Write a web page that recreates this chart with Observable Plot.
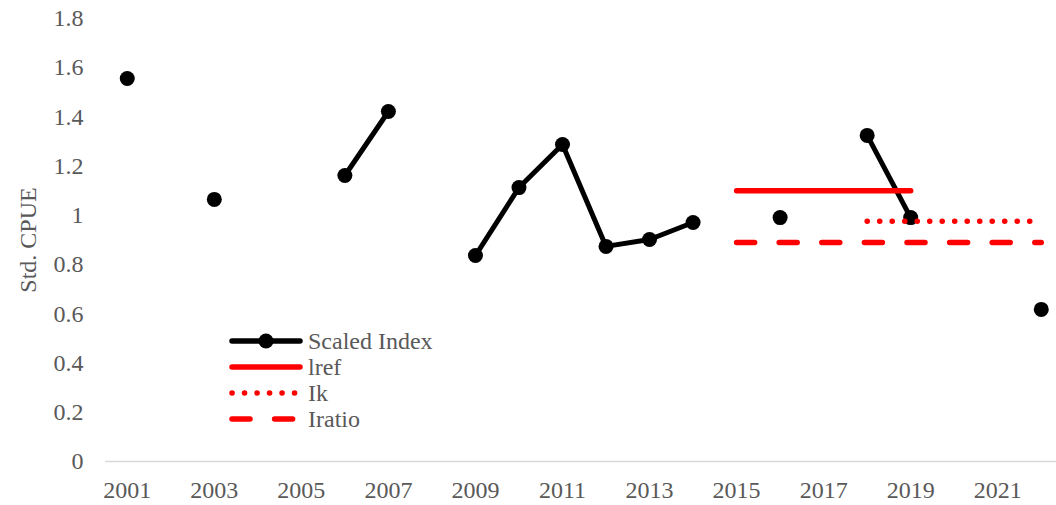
<!DOCTYPE html>
<html>
<head>
<meta charset="utf-8">
<script src="https://cdn.jsdelivr.net/npm/d3@7"></script>
<script src="https://cdn.jsdelivr.net/npm/@observablehq/plot@0.6"></script>
<style>
  html, body { margin: 0; padding: 0; background: #fff; }
  #wrap { position: relative; width: 1056px; height: 505px; }
  #legend { position: absolute; left: 0; top: 0; pointer-events: none; }
</style>
</head>
<body>
<div id="wrap"></div>
<script>
// ---- data ----
const years = [2001,2002,2003,2004,2005,2006,2007,2008,2009,2010,2011,2012,2013,2014,2015,2016,2017,2018,2019,2020,2021,2022];
const scaledIndex = [1.556,null,1.065,null,null,1.162,1.422,null,0.837,1.113,1.288,0.874,0.902,0.971,null,0.991,null,1.325,0.991,null,null,0.618];

const irefYears = [2015, 2019];
const irefValues = [1.1, 1.1];
const ikYears = [2018, 2022];
const ikValues = [0.976, 0.976];
const iratioYears = [2015, 2022];
const iratioValues = [0.89, 0.89];

const xTicks = [2001,2003,2005,2007,2009,2011,2013,2015,2017,2019,2021];
const yTicks = [0,0.2,0.4,0.6,0.8,1,1.2,1.4,1.6,1.8];
const yLabel = "Std. CPUE";
const legendLabels = ["Scaled Index","lref","Ik","Iratio"];

// ---- tables ----
const idx = years.map((y,i) => ({year: y, value: scaledIndex[i]}));
const idxPts = idx.filter(d => d.value != null);
const iref = irefYears.map((y,i) => ({year: y, value: irefValues[i]}));
const ik = ikYears.map((y,i) => ({year: y, value: ikValues[i]}));
const iratio = iratioYears.map((y,i) => ({year: y, value: iratioValues[i]}));

const FONT = "'Liberation Serif', 'Times New Roman', serif";
const GRAY = "#595959";
const RED = "#ff0000";

const chart = Plot.plot({
  width: 1056,
  height: 505,
  marginLeft: 105,
  marginRight: 0,
  marginTop: 18,
  marginBottom: 44,
  style: {fontFamily: FONT, fontSize: "24px", color: GRAY, background: "#fff"},
  x: {domain: [2000.5, 2022.35], axis: null},
  y: {domain: [0, 1.8], axis: null},
  marks: [
    Plot.ruleY([0], {stroke: "#d9d9d9", strokeWidth: 1.5}),
    Plot.axisX(xTicks, {tickSize: 0, tickPadding: 19, tickFormat: d => String(d), fill: GRAY, fontSize: 24, fontFamily: FONT, label: null}),
    Plot.axisY(yTicks, {tickSize: 0, tickPadding: 22, tickFormat: d => String(+d.toFixed(1)), fill: GRAY, fontSize: 24, fontFamily: FONT, label: null}),
    Plot.line(idx, {x: "year", y: "value", stroke: "#000", strokeWidth: 5, strokeLinejoin: "round", strokeLinecap: "round", defined: d => d.value != null}),
    Plot.dot(idxPts, {x: "year", y: "value", r: 7.5, fill: "#000", stroke: "none"}),
    Plot.line(iref, {x: "year", y: "value", stroke: RED, strokeWidth: 5.5, strokeLinecap: "round"}),
    Plot.line(ik, {x: "year", y: "value", stroke: RED, strokeWidth: 5.5, strokeLinecap: "round", strokeDasharray: "0.1,12.4"}),
    Plot.line(iratio, {x: "year", y: "value", stroke: RED, strokeWidth: 5.5, strokeLinecap: "round", strokeDasharray: "18,24.6"}),
    Plot.text([yLabel], {frameAnchor: "left", dx: -77, dy: 0, rotate: -90, fill: GRAY, fontSize: 24, fontFamily: FONT, textAnchor: "middle"})
  ]
});

const wrap = document.getElementById("wrap");
wrap.appendChild(chart);

// ---- legend overlay ----
const lg = d3.select(wrap).append("svg")
  .attr("id", "legend")
  .attr("width", 1056).attr("height", 505);
const rows = [
  {label: legendLabels[0], stroke: "#000", dash: null, dot: true, y: 341},
  {label: legendLabels[1], stroke: RED, dash: null, dot: false, y: 367},
  {label: legendLabels[2], stroke: RED, dash: "0.1,12.4", dot: false, y: 393},
  {label: legendLabels[3], stroke: RED, dash: "18,24.6", dot: false, y: 419}
];
const x0 = 232, x1 = 300;
rows.forEach(r => {
  const ln = lg.append("line")
    .attr("x1", x0).attr("x2", x1).attr("y1", r.y).attr("y2", r.y)
    .attr("stroke", r.stroke).attr("stroke-width", 5.5).attr("stroke-linecap", "round");
  if (r.dash) ln.attr("stroke-dasharray", r.dash);
  if (r.dot) lg.append("circle").attr("cx", (x0 + x1) / 2).attr("cy", r.y).attr("r", 7.5).attr("fill", "#000");
  lg.append("text")
    .attr("x", 308).attr("y", r.y).attr("dy", "0.35em")
    .attr("fill", GRAY).attr("font-family", FONT).attr("font-size", 24)
    .text(r.label);
});
</script>
</body>
</html>
